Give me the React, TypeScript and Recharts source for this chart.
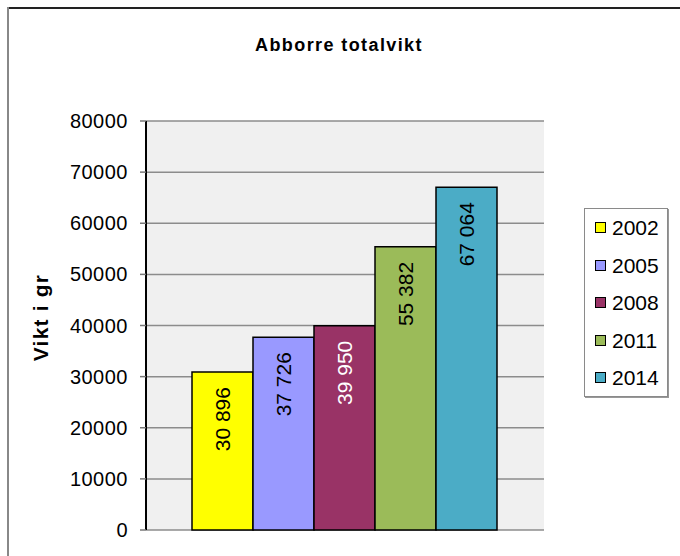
import React from 'react';
import { BarChart, Bar, XAxis, YAxis, CartesianGrid, LabelList } from 'recharts';

const years = ['2002', '2005', '2008', '2011', '2014'];
const values = [30896, 37726, 39950, 55382, 67064];
const colors = ['#FFFF00', '#9999FF', '#993366', '#9BBB59', '#4BACC6'];
const labelColors = ['#000000', '#000000', '#FFFFFF', '#000000', '#000000'];
const yTicks = [0, 10000, 20000, 30000, 40000, 50000, 60000, 70000, 80000];
const title = 'Abborre totalvikt';
const yLabel = 'Vikt i gr';

const FONT = '"Liberation Sans", Arial, sans-serif';

const row: Record<string, number | string> = { name: '' };
years.forEach((y, i) => {
  row['y' + y] = values[i];
});
const data = [row];

const fmt = (v: number) => String(v).replace(/\B(?=(\d{3})+(?!\d))/g, ' ');

const makeLabel = (color: string) => (props: any) => {
  const { x, y, width, value } = props;
  const cx = Number(x) + Number(width) / 2;
  const ty = Number(y) + 15;
  return (
    <text
      x={cx}
      y={ty}
      transform={`rotate(-90 ${cx} ${ty})`}
      textAnchor="end"
      dominantBaseline="central"
      fontSize={21}
      fontFamily={FONT}
      fill={color}
    >
      {fmt(Number(value))}
    </text>
  );
};

const YLabel = (props: any) => {
  const vb = props.viewBox || {};
  const cx = 40;
  const cy = Number(vb.y) + Number(vb.height) / 2 - 8;
  return (
    <text
      x={cx}
      y={cy}
      transform={`rotate(-90 ${cx} ${cy})`}
      textAnchor="middle"
      dominantBaseline="central"
      fontSize={21}
      fontWeight="bold"
      fontFamily={FONT}
      letterSpacing={1.2}
      fill="#000"
    >
      {yLabel}
    </text>
  );
};

const LegendBox = () => (
  <div
    style={{
      position: 'absolute',
      left: 584,
      top: 208,
      width: 84,
      height: 189,
      boxSizing: 'border-box',
      border: '1px solid #8a8a8a',
      boxShadow: '1px 1px 0 #999',
      background: '#fff',
      paddingTop: 0,
      fontFamily: FONT,
    }}
  >
    {years.map((y, i) => (
      <div key={y} style={{ display: 'flex', alignItems: 'center', height: 37.5, paddingLeft: 10 }}>
        <span
          style={{
            display: 'inline-block',
            width: 11,
            height: 11,
            boxSizing: 'border-box',
            border: '1.5px solid #000',
            background: colors[i],
            marginRight: 6,
          }}
        />
        <span style={{ fontSize: 21, color: '#000', lineHeight: '21px' }}>{y}</span>
      </div>
    ))}
  </div>
);

export default function App() {
  return (
    <div style={{ position: 'absolute', left: 0, top: 0, width: 680, height: 556, background: '#fff', overflow: 'hidden' }}>
      <div
        style={{
          position: 'absolute',
          left: 0,
          width: 678,
          top: 35,
          textAlign: 'center',
          fontFamily: FONT,
          fontWeight: 'bold',
          fontSize: 18,
          letterSpacing: 1.4,
          color: '#000',
        }}
      >
        {title}
      </div>
      <div style={{ position: 'absolute', left: 0, top: 0 }}>
        <BarChart
          width={680}
          height={556}
          data={data}
          margin={{ top: 121, right: 136, bottom: 26, left: 0 }}
          barCategoryGap={46}
          barGap={0}
        >
          <CartesianGrid vertical={false} stroke="#8c8c8c" strokeWidth={1.5} fill="#F0F0F0" />
          <XAxis dataKey="name" hide />
          <YAxis
            width={146}
            domain={[0, 80000]}
            ticks={yTicks}
            interval={0}
            tickSize={6}
            tickMargin={12}
            axisLine={{ stroke: '#000', strokeWidth: 2 }}
            tickLine={{ stroke: '#777', strokeWidth: 1.5 }}
            tick={{ fontSize: 20, fill: '#000', fontFamily: FONT, letterSpacing: 0.5 }}
            label={<YLabel />}
          />
          <YAxis
            yAxisId="r"
            orientation="right"
            width={0}
            domain={[0, 80000]}
            tick={false}
            tickLine={false}
            axisLine={{ stroke: '#8c8c8c', strokeWidth: 1.5 }}
          />
          {years.map((y, i) => (
            <Bar
              key={y}
              dataKey={'y' + y}
              name={y}
              fill={colors[i]}
              stroke="#000"
              strokeWidth={1.5}
              isAnimationActive={false}
            >
              <LabelList dataKey={'y' + y} content={makeLabel(labelColors[i])} />
            </Bar>
          ))}
        </BarChart>
      </div>
      <LegendBox />
      <div
        style={{
          position: 'absolute',
          left: 7,
          top: 7,
          width: 673,
          height: 2,
          background: '#222',
          zIndex: 5,
        }}
      />
      <div
        style={{
          position: 'absolute',
          left: 7,
          top: 7,
          width: 2,
          height: 549,
          background: '#888',
          zIndex: 5,
        }}
      />
    </div>
  );
}
